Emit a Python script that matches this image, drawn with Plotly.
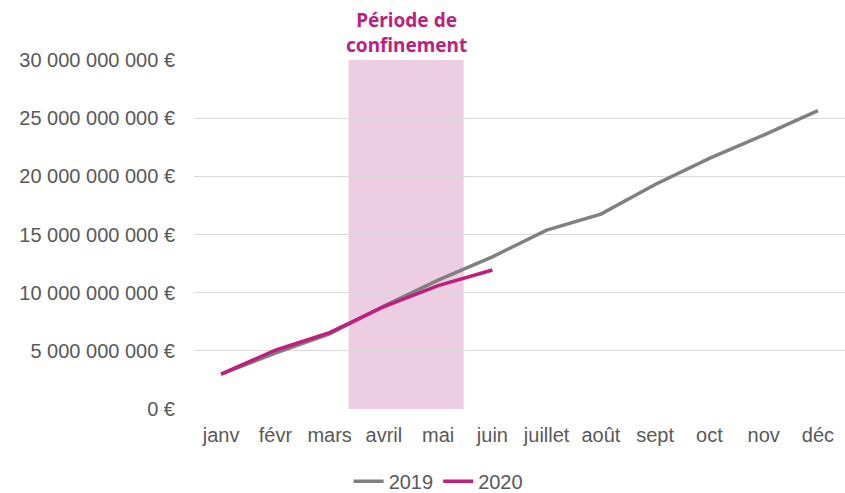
import plotly.graph_objects as go

months = ["janv", "févr", "mars", "avril", "mai", "juin", "juillet", "août", "sept", "oct", "nov", "déc"]
values_2019 = [3.0e9, 4.8e9, 6.45e9, 8.85e9, 11.08e9, 13.08e9, 15.38e9, 16.75e9, 19.3e9, 21.55e9, 23.55e9, 25.65e9]
values_2020 = [3.0e9, 5.05e9, 6.56e9, 8.8e9, 10.6e9, 11.95e9]
ytick_vals = [0, 5e9, 10e9, 15e9, 20e9, 25e9, 30e9]
ytick_text = ["0 €", "5 000 000 000 €", "10 000 000 000 €", "15 000 000 000 €",
              "20 000 000 000 €", "25 000 000 000 €", "30 000 000 000 €"]
confinement_start = 2.35  # category position (mid-mars)
confinement_end = 4.47    # category position (mi-mai)
confinement_label = "Période de<br>confinement"

GRAY = "#808080"
MAGENTA = "#BE1E7D"
TXT = "#595959"

fig = go.Figure()
fig.add_shape(type="rect", xref="x", yref="y",
              x0=confinement_start, x1=confinement_end, y0=0, y1=30e9,
              fillcolor="#EDCDE2", line_width=0, layer="below")
fig.add_trace(go.Scatter(x=list(range(len(values_2019))), y=values_2019, mode="lines",
                         name="2019", line=dict(color=GRAY, width=3.5)))
fig.add_trace(go.Scatter(x=list(range(len(values_2020))), y=values_2020, mode="lines",
                         name="2020", line=dict(color=MAGENTA, width=3.5)))
fig.add_annotation(x=(confinement_start + confinement_end) / 2, y=1, xref="x", yref="paper",
                   yanchor="bottom", yshift=0, text="<b>" + confinement_label + "</b>",
                   showarrow=False, font=dict(family="Noto Sans", size=19, color=MAGENTA),
                   align="center")

fig.update_layout(
    width=845, height=493,
    margin=dict(l=194, r=0, t=60, b=84, pad=0, autoexpand=False),
    plot_bgcolor="white", paper_bgcolor="white",
    font=dict(family="Liberation Sans, Arial", size=20, color=TXT),
    showlegend=True,
    legend=dict(orientation="h", x=0.375, xanchor="center", y=-0.207, yanchor="middle",
                font=dict(size=20, color=TXT), itemwidth=30, tracegroupgap=0),
)
fig.update_xaxes(tickmode="array", tickvals=list(range(len(months))), ticktext=months,
                 range=[-0.5, 11.5], showgrid=False, zeroline=False, showline=False,
                 ticks="", ticklabelstandoff=12, automargin=False)
fig.update_yaxes(tickmode="array", tickvals=ytick_vals, ticktext=ytick_text,
                 range=[0, 30e9], showgrid=True, gridcolor="#D9D9D9", gridwidth=1.3,
                 zeroline=False, showline=False, ticks="", ticklabelstandoff=18,
                 automargin=False)

fig.write_html("out.html", config={"displayModeBar": False},
               post_script="document.body.style.margin='0';document.body.style.overflow='hidden';")
